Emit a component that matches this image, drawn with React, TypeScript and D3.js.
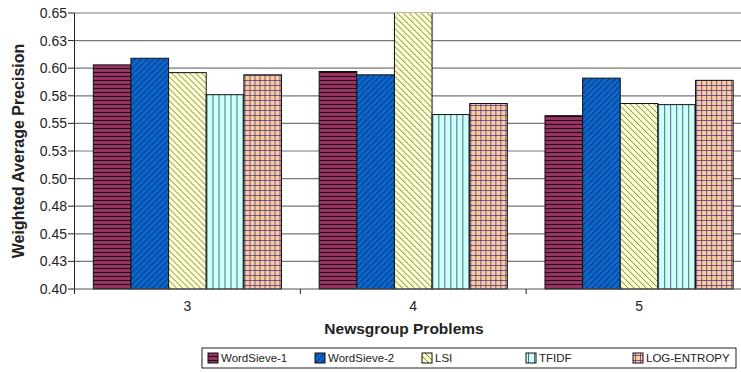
import * as React from 'react';
import * as d3 from 'd3';

const categories = ['3', '4', '5'];
const series = ['WordSieve-1', 'WordSieve-2', 'LSI', 'TFIDF', 'LOG-ENTROPY'];
const wordSieve1 = [0.603, 0.597, 0.557];
const wordSieve2 = [0.609, 0.594, 0.591];
const lsi = [0.596, 0.66, 0.568];
const tfidf = [0.576, 0.558, 0.567];
const logEntropy = [0.594, 0.568, 0.589];
const values = [wordSieve1, wordSieve2, lsi, tfidf, logEntropy];
const yTicks = [0.4, 0.425, 0.45, 0.475, 0.5, 0.525, 0.55, 0.575, 0.6, 0.625, 0.65];
const yTickLabels = ['0.40', '0.43', '0.45', '0.48', '0.50', '0.53', '0.55', '0.58', '0.60', '0.63', '0.65'];

const patternIds = ['p-ws1', 'p-ws2', 'p-lsi', 'p-tfidf', 'p-log'];

const Patterns = () => (
  <defs>
    <pattern id="p-ws1" patternUnits="userSpaceOnUse" width="6" height="4">
      <rect width="6" height="4" fill="#993366" />
      <line x1="0" y1="0.5" x2="6" y2="0.5" stroke="#1a0a10" strokeWidth="1" />
    </pattern>
    <pattern id="p-ws2" patternUnits="userSpaceOnUse" width="6" height="6">
      <rect width="6" height="6" fill="#0a66cc" />
      <path d="M-1,7 L7,-1 M-1,1 L1,-1 M5,7 L7,5" stroke="#0a2a55" strokeWidth="0.9" />
    </pattern>
    <pattern id="p-lsi" patternUnits="userSpaceOnUse" width="6" height="6">
      <rect width="6" height="6" fill="#ffffcc" />
      <path d="M-1,-1 L7,7 M5,-1 L7,1 M-1,5 L1,7" stroke="#6e6e58" strokeWidth="0.9" />
    </pattern>
    <pattern id="p-tfidf" patternUnits="userSpaceOnUse" width="6" height="6">
      <rect width="6" height="6" fill="#ccffff" />
      <line x1="0.5" y1="0" x2="0.5" y2="6" stroke="#4f6f6a" strokeWidth="1" />
    </pattern>
    <pattern id="p-log" patternUnits="userSpaceOnUse" width="5" height="5">
      <rect width="5" height="5" fill="#ffcc99" />
      <line x1="0.5" y1="0" x2="0.5" y2="5" stroke="#4a3a8a" strokeWidth="0.8" />
      <line x1="0" y1="0.5" x2="5" y2="0.5" stroke="#4a3a8a" strokeWidth="0.8" />
    </pattern>
    <clipPath id="plot-clip">
      <rect x="74" y="13" width="680" height="277" />
    </clipPath>
  </defs>
);

export default function App() {
  const left = 74.5, right = 752, top = 13, bottom = 289;

  const x0 = d3.scaleBand().domain(categories).range([left, right]).padding(0);
  const x1 = d3.scaleBand().domain(series).range([0, x0.bandwidth()]).paddingInner(0).paddingOuter(0.5);
  const y = d3.scaleLinear().domain([0.4, 0.65]).range([bottom, top]);

  const font = 'Liberation Sans, Arial, sans-serif';
  const legendX = [208, 315, 422, 526, 633];

  return (
    <svg width={741} height={372} style={{ position: 'absolute', left: 0, top: 0 }} fontFamily={font}>
      <Patterns />
      <rect width={741} height={372} fill="#fff" />
      {yTicks.map((t, i) => (
        <g key={i}>
          {i > 0 && <line x1={left} x2={741} y1={y(t)} y2={y(t)} stroke="#777" strokeWidth={1.2} />}
          <line x1={68} x2={left} y1={y(t)} y2={y(t)} stroke="#222" />
          <text x={67} y={y(t)} dy="0.35em" textAnchor="end" fontSize={14} fill="#222">{yTickLabels[i]}</text>
        </g>
      ))}
      <g clipPath="url(#plot-clip)">
        {categories.map((c, ci) => (
          <g key={c} transform={`translate(${x0(c)},0)`}>
            {series.map((s, si) => {
              const v = values[si][ci];
              return (
                <rect key={s} x={x1(s)} y={y(v)} width={x1.bandwidth()} height={y(0.4) - y(v)}
                  fill={`url(#${patternIds[si]})`} stroke="#111" strokeWidth={1} />
              );
            })}
          </g>
        ))}
      </g>
      <line x1={left} x2={left} y1={top} y2={bottom + 5} stroke="#222" />
      <line x1={left} x2={741} y1={bottom} y2={bottom} stroke="#555" strokeWidth={1.2} />
      {categories.map((c) => (
        <g key={c}>
          <line x1={(x0(c) as number) + x0.bandwidth()} x2={(x0(c) as number) + x0.bandwidth()} y1={bottom} y2={bottom + 5} stroke="#222" />
          <text x={(x0(c) as number) + x0.bandwidth() / 2} y={311} textAnchor="middle" fontSize={14} fill="#222">{c}</text>
        </g>
      ))}
      <text x={404} y={334} textAnchor="middle" fontSize={15.5} fontWeight="bold" fill="#222">Newsgroup Problems</text>
      <text transform="translate(24,151) rotate(-90)" textAnchor="middle" fontSize={16} fontWeight="bold" fill="#222">Weighted Average Precision</text>
      <rect x={202} y={348} width={534} height={20} fill="#fff" stroke="#222" />
      {series.map((s, i) => (
        <g key={s}>
          <rect x={legendX[i]} y={353} width={10} height={10} fill={`url(#${patternIds[i]})`} stroke="#111" />
          <text x={legendX[i] + 13} y={362} fontSize={11.5} fill="#222">{s}</text>
        </g>
      ))}
    </svg>
  );
}
